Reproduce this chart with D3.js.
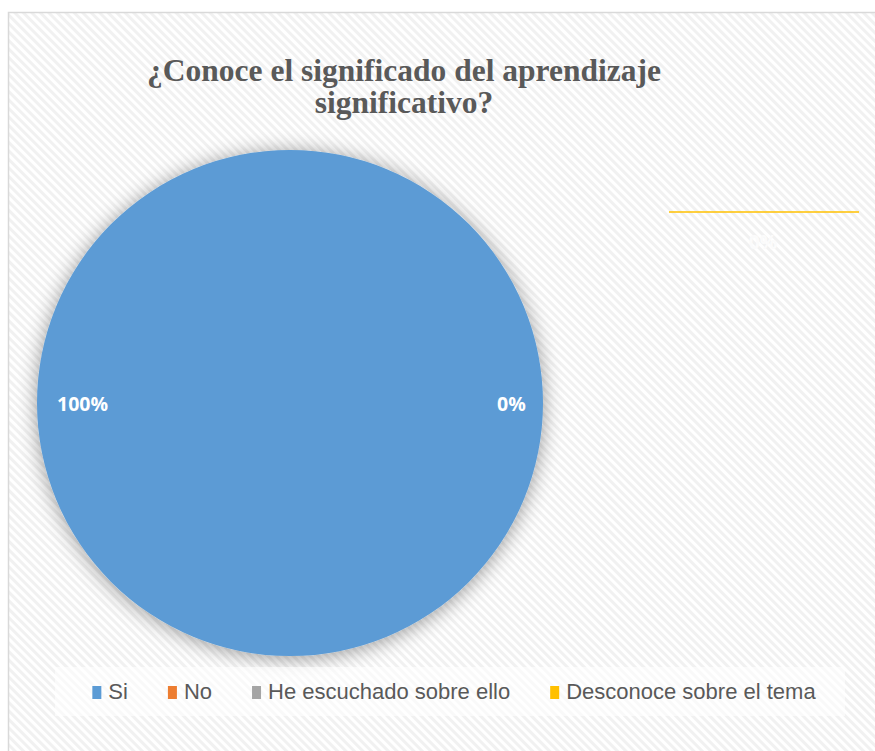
<!DOCTYPE html>
<html>
<head>
    <meta charset="utf-8">
    <style>
        body {
            margin: 0;
            background: white;
        }
        svg {
            display: block;
        }
        .title {
            font-family: 'Liberation Serif', 'Times New Roman', serif;
            font-weight: bold;
            font-size: 31.5px;
            fill: #595959;
        }
        .pct {
            font-family: 'Open Sans', 'Liberation Sans', sans-serif;
            font-weight: bold;
            font-size: 19.5px;
            fill: white;
        }
        .legend text {
            font-family: 'Liberation Sans', sans-serif;
            font-size: 22px;
            fill: #595959;
        }
    </style>
</head>
<body>
<svg width="875" height="751"></svg>

<script src="https://d3js.org/d3.v7.min.js"></script>
<script>
    // data
    let categories = ["Si", "No", "He escuchado sobre ello", "Desconoce sobre el tema"]
    let values = [100, 0, 0, 0]
    let labels = ["100%", "0%", "0%", "0%"]
    let colors = ["#5b9bd5", "#ed7d31", "#a5a5a5", "#ffc000"]
    let titleLines = ["¿Conoce el significado del aprendizaje", "significativo?"]

    let width = 875
    let height = 751
    let svg = d3.select("svg")

    // striped chart background
    let defs = svg.append("defs")
    let pat = defs.append("pattern")
        .attr("id", "stripes")
        .attr("width", 6)
        .attr("height", 6)
        .attr("patternUnits", "userSpaceOnUse")
        .attr("patternTransform", "rotate(-45)")
    pat.append("rect").attr("width", 6).attr("height", 6).attr("fill", "#ffffff")
    pat.append("rect").attr("width", 3).attr("height", 6).attr("fill", "#f1f1f1")

    let shadow = defs.append("filter")
        .attr("id", "shadow")
        .attr("x", "-20%").attr("y", "-20%")
        .attr("width", "140%").attr("height", "140%")
    shadow.append("feGaussianBlur").attr("in", "SourceAlpha").attr("stdDeviation", 10)
    shadow.append("feOffset").attr("dx", 0).attr("dy", 2).attr("result", "blur")
    shadow.append("feComponentTransfer").append("feFuncA").attr("type", "linear").attr("slope", 0.4)
    let merge = shadow.append("feMerge")
    merge.append("feMergeNode")
    merge.append("feMergeNode").attr("in", "SourceGraphic")

    // chart area frame
    svg.append("rect")
        .attr("x", 8.5).attr("y", 12.5)
        .attr("width", width + 10).attr("height", height + 10)
        .attr("fill", "url(#stripes)")
        .attr("stroke", "#d9d9d9")
        .attr("stroke-width", 1.5)

    // title
    svg.append("text")
        .attr("class", "title")
        .attr("text-anchor", "middle")
        .selectAll("tspan")
        .data(titleLines)
        .join("tspan")
        .attr("x", 404)
        .attr("y", (d, i) => 81 + i * 32)
        .text(d => d)

    // pie
    let cx = 290, cy = 403, r = 253
    let pie = d3.pie().sort(null).startAngle(0).endAngle(2 * Math.PI)
    let arcs = pie(values)
    let arc = d3.arc().innerRadius(0).outerRadius(r)

    let g = svg.append("g").attr("transform", `translate(${cx},${cy})`)
    g.selectAll("path")
        .data(arcs)
        .join("path")
        .attr("d", arc)
        .attr("fill", (d, i) => colors[i])
        .attr("filter", "url(#shadow)")

    // data labels: Si placed at left inside, No at right inside
    let labelPos = [
        { a: -Math.PI / 2, k: 0.82 },
        { a: Math.PI / 2, k: 0.875 }
    ]
    labelPos.forEach((p, i) => {
        g.append("text")
            .attr("class", "pct")
            .attr("text-anchor", "middle")
            .attr("x", Math.sin(p.a) * r * p.k)
            .attr("y", -Math.cos(p.a) * r * p.k + 8)
            .text(labels[i])
    })

    // the last 0% label sits outside with a leader line
    svg.append("line")
        .attr("x1", 669).attr("x2", 859)
        .attr("y1", 212).attr("y2", 212)
        .attr("stroke", colors[3])
        .attr("stroke-width", 1.5)
    svg.append("text")
        .attr("class", "pct")
        .attr("text-anchor", "middle")
        .attr("x", 763).attr("y", 249)
        .style("fill", "#fbfbfb")
        .text(labels[3])

    // legend
    let legend = svg.append("g").attr("class", "legend")
    legend.append("rect")
        .attr("x", 55).attr("y", 667)
        .attr("width", 790).attr("height", 49)
        .attr("fill", "white").attr("opacity", 0.6)

    let items = legend.selectAll("g.item")
        .data(categories)
        .join("g")
        .attr("class", "item")
    items.append("rect")
        .attr("width", 9).attr("height", 13)
        .attr("y", -13)
        .attr("fill", (d, i) => colors[i])
    items.append("text")
        .attr("x", 16)
        .attr("y", 0)
        .text(d => d)

    let gap = 40
    let widths = items.nodes().map(n => 16 + d3.select(n).select("text").node().getComputedTextLength())
    let total = d3.sum(widths) + gap * (widths.length - 1)
    let x0 = 454 - total / 2
    items.attr("transform", (d, i) => {
        let x = x0 + d3.sum(widths.slice(0, i)) + gap * i
        return `translate(${x},699)`
    })
</script>
</body>
</html>
